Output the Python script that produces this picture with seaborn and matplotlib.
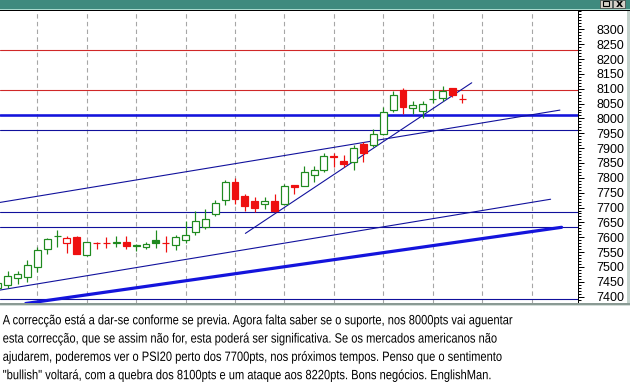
import matplotlib
matplotlib.use("Agg")
import matplotlib.pyplot as plt
import matplotlib.font_manager as fm
import matplotlib.patheffects as pe
from matplotlib.transforms import Affine2D
from matplotlib.patches import Rectangle
from matplotlib.ticker import MultipleLocator
import seaborn as sns

# ---------------- data ----------------
opens = [7428, 7439, 7462, 7467, 7501, 7560, 7603, 7580, 7601, 7539,
         7582, 7581, 7582, 7585, 7574, 7568, 7591, 7581, 7573, 7592,
         7618, 7635, 7677, 7724, 7787, 7739, 7723, 7711, 7721, 7711,
         7776, 7774, 7811, 7826, 7873, 7857, 7852, 7913, 7912, 7948,
         8028, 8096, 8034, 8024, 8065, 8068, 8102, 8066]
highs = [7452, 7485, 7486, 7523, 7567, 7599, 7624, 7604, 7604, 7585,
         7583, 7600, 7604, 7604, 7578, 7585, 7623, 7604, 7607, 7656,
         7687, 7695, 7725, 7793, 7798, 7747, 7734, 7734, 7746, 7780,
         7777, 7840, 7839, 7883, 7883, 7877, 7911, 7920, 7965, 8037,
         8093, 8101, 8058, 8059, 8095, 8109, 8104, 8082]
lows = [7424, 7430, 7443, 7450, 7484, 7543, 7567, 7547, 7542, 7537,
        7559, 7563, 7568, 7561, 7554, 7559, 7564, 7550, 7558, 7580,
        7606, 7628, 7673, 7709, 7713, 7689, 7685, 7694, 7685, 7709,
        7744, 7772, 7787, 7821, 7838, 7835, 7828, 7853, 7905, 7944,
        8023, 8016, 8016, 8000, 8052, 8060, 8073, 8051]
closes = [7445, 7470, 7477, 7507, 7557, 7593, 7604, 7596, 7543, 7583,
          7581, 7579, 7583, 7570, 7571, 7576, 7582, 7580, 7600, 7608,
          7654, 7660, 7714, 7787, 7728, 7705, 7697, 7721, 7689, 7772,
          7770, 7821, 7826, 7874, 7871, 7848, 7901, 7883, 7948, 8020,
          8078, 8040, 8044, 8048, 8066, 8093, 8078, 8065]

y_tick_values = list(range(7400, 8301, 50))
red_levels = [8232, 8096]
thin_blue_levels = [7960, 7684, 7634, 7391]
thick_blue_levels = [8012]

# trend lines: start (index, value) -> end (index, value)
thin_trend_x0 = [0.0, 0.0, 25.05]
thin_trend_y0 = [7716, 7421, 7613]
thin_trend_x1 = [56.87, 55.93, 47.95]
thin_trend_y1 = [8028, 7728, 8120]
thick_trend_x0 = [2.83]
thick_trend_y0 = [7377]
thick_trend_x1 = [57.04]
thick_trend_y1 = [7633.5]

body_lines = [
    "A correcção está a dar-se conforme se previa. Agora falta saber se o suporte, nos 8000pts vai aguentar",
    "esta correcção, que se assim não for, esta poderá ser significativa. Se os mercados americanos não",
    "ajudarem, poderemos ver o PSI20 perto dos 7700pts, nos próximos tempos. Penso que o sentimento",
    "\"bullish\" voltará, com a quebra dos 8100pts e um ataque aos 8220pts. Bons negócios. EnglishMan.",
]

# ---------------- style ----------------
sns.set_theme(style="white")
plt.rcParams['font.family'] = ['Liberation Sans', 'DejaVu Sans']

W, H = 630, 384
PX = 0.72  # points per pixel at dpi 100
GREEN = "#1f8a1f"
RED = "#ee1010"
LINE_RED = "#d02828"
THIN_BLUE = "#10109c"
THICK_BLUE = "#1414dc"


def fx(x):
    return x / W


def fy(y):
    return 1 - y / H


fig = plt.figure(figsize=(6.3, 3.84), dpi=100, facecolor="white")
ax = fig.add_axes([0, fy(303), fx(577.7), (303 - 11) / H])
ax.set_facecolor("white")
XMIN, XMAX = 0.227, 58.67
ax.set_xlim(XMIN, XMAX)
ax.set_ylim(7378.7, 8361.6)

# vertical dashed grid every 5 bars
ax.set_xticks(list(range(4, 58, 5)))
ax.tick_params(axis="x", length=0, labelbottom=False)
ax.grid(axis="x", color="#a6a6a6", linestyle=(0, (4, 3)), linewidth=PX * 1.1)
ax.grid(axis="y", visible=False)
ax.set_axisbelow(True)

# right value axis
ax.yaxis.tick_right()
ax.set_yticks(y_tick_values)
ax.yaxis.set_minor_locator(MultipleLocator(10))
ax.tick_params(axis="y", which="major", direction="out", length=6 * PX, width=PX,
               color="black", pad=12.5 * PX, labelsize=12.5 * PX, labelcolor="black")
ax.tick_params(axis="y", which="minor", direction="out", length=3 * PX, width=PX,
               color="black", right=True, left=False)
for side, sp in ax.spines.items():
    sp.set_visible(side == "right")
ax.spines["right"].set_color("black")
ax.spines["right"].set_linewidth(PX)

# horizontal levels
for lvl in red_levels:
    sns.lineplot(x=[XMIN, XMAX], y=[lvl, lvl], ax=ax, color=LINE_RED,
                 linewidth=PX * 1.1, estimator=None, sort=False, legend=False)
for lvl in thin_blue_levels:
    sns.lineplot(x=[XMIN, XMAX], y=[lvl, lvl], ax=ax, color=THIN_BLUE,
                 linewidth=PX * 1.1, estimator=None, sort=False, legend=False)
for lvl in thick_blue_levels:
    sns.lineplot(x=[XMIN, XMAX], y=[lvl, lvl], ax=ax, color=THICK_BLUE,
                 linewidth=PX * 2.6, estimator=None, sort=False, legend=False)

# trend lines
for a, b, c, d in zip(thin_trend_x0, thin_trend_y0, thin_trend_x1, thin_trend_y1):
    sns.lineplot(x=[a, c], y=[b, d], ax=ax, color=THIN_BLUE, linewidth=PX * 1.1,
                 estimator=None, sort=False, legend=False)
for a, b, c, d in zip(thick_trend_x0, thick_trend_y0, thick_trend_x1, thick_trend_y1):
    sns.lineplot(x=[a, c], y=[b, d], ax=ax, color=THICK_BLUE, linewidth=PX * 3.2,
                 estimator=None, sort=False, legend=False)

# candlesticks
for i, (o, h, l, c) in enumerate(zip(opens, highs, lows, closes)):
    prev = closes[i - 1] if i > 0 else o
    col = GREEN if c >= prev else RED
    ax.vlines(i, l, h, color=col, linewidth=PX * 1.2, zorder=5)
    face = "white" if c > o else col
    ax.bar(i, max(abs(c - o), 1.0), bottom=min(o, c), width=0.7, facecolor=face,
           edgecolor=col, linewidth=PX * 1.2, zorder=6)

# ---------------- window chrome ----------------
def rect(x0, y0, x1, y1, color, **kw):
    fig.add_artist(Rectangle((fx(x0), fy(y1)), fx(x1) - fx(x0), fy(y0) - fy(y1),
                             transform=fig.transFigure, facecolor=color,
                             edgecolor=kw.get("edge", "none"),
                             linewidth=kw.get("lw", 0), zorder=kw.get("z", 10)))

rect(0, 0, 630, 8.6, "#3f8a7e")
rect(0, 8.6, 630, 10, "#a8d8cc")
rect(0, 10, 630, 11, "#000000")
rect(627, 11, 630, 306, "#c4d2cc")
rect(0, 303.2, 630, 304.6, "#8a9a94")
rect(0, 304.6, 630, 306.4, "#d2dcd8")
# title-bar buttons
rect(600, 0, 611.5, 7.6, "#d4d0c8", edge="#404040", lw=0.5)
rect(613, 0, 625, 7.6, "#d4d0c8", edge="#404040", lw=0.5)
rect(602.5, 1.2, 608.5, 5.8, "none", edge="#000000", lw=0.8, z=11)
fig.text(fx(619), fy(4.2), "x", fontsize=8, fontweight="bold", ha="center",
         va="center", color="black", family="DejaVu Sans", zorder=12)


# ---------------- body text (horizontally condensed glyphs) ----------------
class Condense(pe.AbstractPathEffect):
    """Draw text glyphs squeezed horizontally about a fixed display x."""

    def __init__(self, sx, x0):
        super().__init__()
        self.sx = sx
        self.x0 = x0

    def draw_path(self, renderer, gc, tpath, affine, rgbFace=None):
        squeeze = Affine2D().translate(-self.x0, 0).scale(self.sx, 1).translate(self.x0, 0)
        renderer.draw_path(gc, tpath, affine + squeeze, rgbFace)


names = {f.name for f in fm.fontManager.ttflist}
body_family = "Liberation Sans" if "Liberation Sans" in names else "DejaVu Sans"
baselines = [324.3, 342.6, 360.9, 379.2]
X_TEXT = 2.7
texts = []
for line, yb in zip(body_lines, baselines):
    texts.append(fig.text(fx(X_TEXT), fy(yb), line, fontsize=10.2, ha="left",
                          va="baseline", color="black",
                          family=[body_family, "DejaVu Sans"]))
fig.canvas.draw()
renderer = fig.canvas.get_renderer()
widths = [t.get_window_extent(renderer).width for t in texts]
# keep the un-squeezed layout box inside the figure
size = 10.2 * min(1.0, 618.0 / max(widths))
for t in texts:
    t.set_fontsize(size)
fig.canvas.draw()
w0 = texts[0].get_window_extent(renderer).width
sx = min(1.0, 512.0 / w0)
for t in texts:
    t.set_path_effects([Condense(sx, X_TEXT)])

fig.savefig("out.png", dpi=100, facecolor="white")
